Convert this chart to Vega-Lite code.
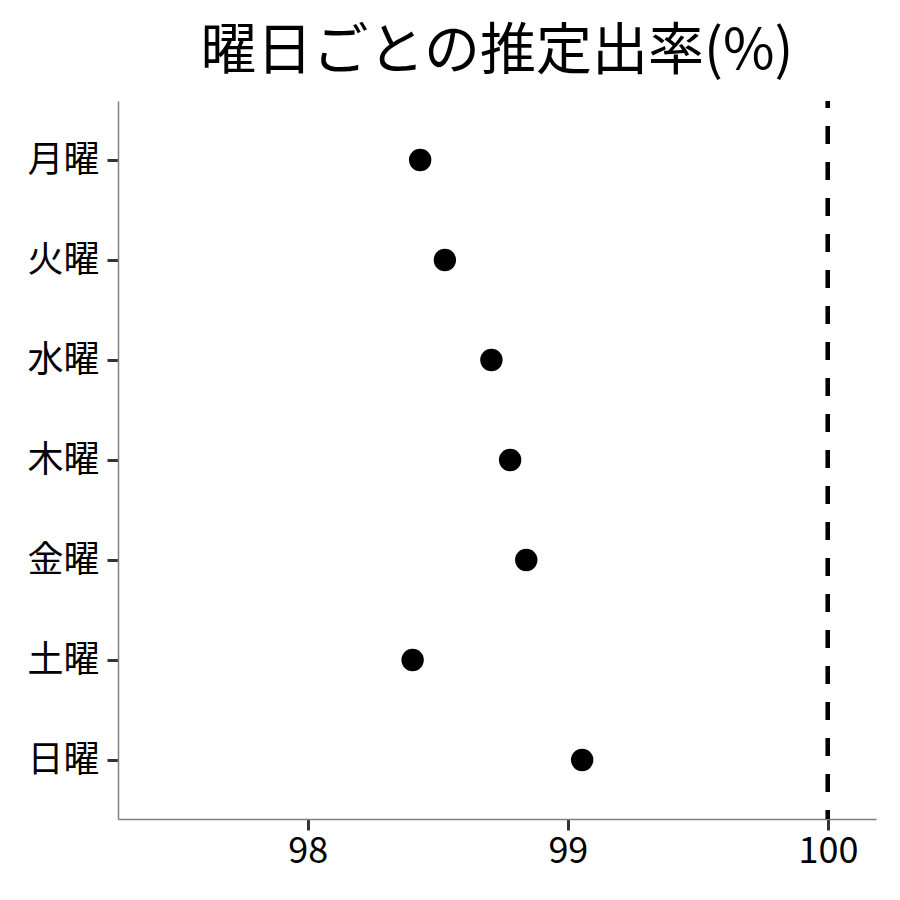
{
  "$schema": "https://vega.github.io/schema/vega-lite/v6.json",
  "autosize": {"type": "none"},
  "width": 758,
  "height": 718,
  "padding": {"left": 118, "top": 101, "right": 24, "bottom": 81},
  "background": "white",
  "config": {
    "font": "Noto Sans CJK JP",
    "view": {"stroke": null}
  },
  "title": {
    "text": "曜日ごとの推定出率(%)",
    "fontSize": 56,
    "fontWeight": "normal",
    "color": "black",
    "anchor": "middle",
    "frame": "group",
    "offset": 18
  },
  "data": {
    "values": [
      {"day": "月曜", "rate": 98.432},
      {"day": "火曜", "rate": 98.527},
      {"day": "水曜", "rate": 98.706},
      {"day": "木曜", "rate": 98.778},
      {"day": "金曜", "rate": 98.840},
      {"day": "土曜", "rate": 98.403},
      {"day": "日曜", "rate": 99.055}
    ]
  },
  "layer": [
    {
      "mark": {"type": "rule", "color": "black", "strokeWidth": 4, "strokeDash": [18, 18], "strokeDashOffset": 11},
      "encoding": {
        "x": {"datum": 100, "type": "quantitative"}
      }
    },
    {
      "mark": {"type": "circle", "color": "black", "opacity": 1, "size": 500},
      "encoding": {
        "x": {
          "field": "rate",
          "type": "quantitative",
          "scale": {"domain": [97.27, 100.185], "nice": false, "zero": false},
          "axis": {
            "title": null,
            "values": [98, 99, 100],
            "format": "d",
            "grid": false,
            "labelFontSize": 36,
            "labelColor": "black",
            "labelPadding": 4,
            "tickSize": 11,
            "tickWidth": 3,
            "tickColor": "#333333",
            "domainColor": "#7f7f7f",
            "domainWidth": 1.5
          }
        },
        "y": {
          "field": "day",
          "type": "nominal",
          "sort": ["月曜", "火曜", "水曜", "木曜", "金曜", "土曜", "日曜"],
          "scale": {"type": "point", "padding": 0.59},
          "axis": {
            "title": null,
            "grid": false,
            "labelFontSize": 36,
            "labelColor": "black",
            "labelPadding": 8,
            "tickSize": 11,
            "tickWidth": 3,
            "tickColor": "#333333",
            "domainColor": "#7f7f7f",
            "domainWidth": 1.5
          }
        }
      }
    }
  ]
}
